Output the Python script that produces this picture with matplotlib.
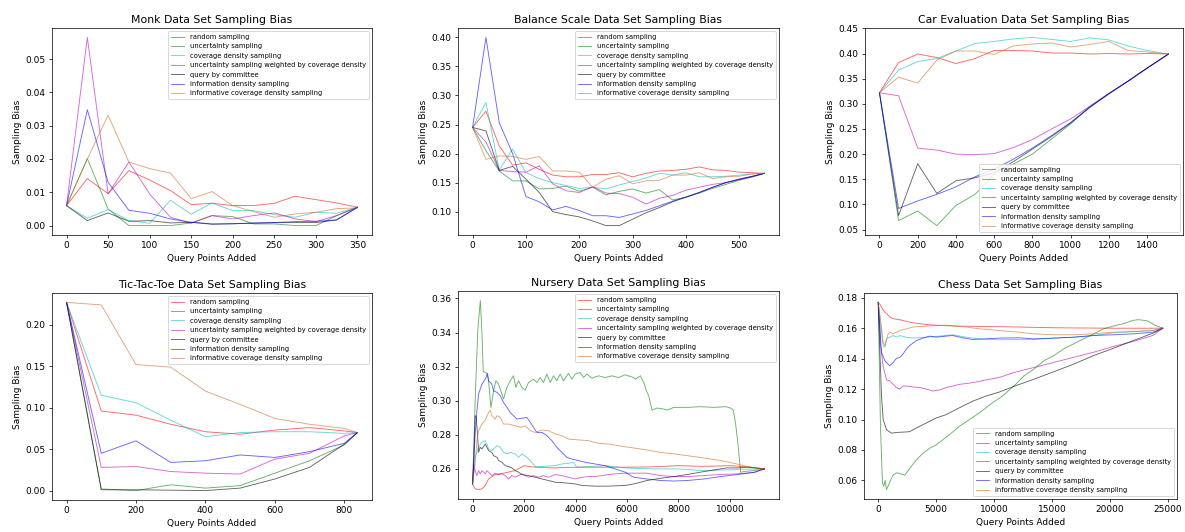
import matplotlib

matplotlib.use("Agg")
import matplotlib.pyplot as plt


STRATEGIES = [
    "random sampling",
    "uncertainty sampling",
    "coverage density sampling",
    "uncertainty sampling weighted by coverage density",
    "query by committee",
    "information density sampling",
    "informative coverage density sampling",
]
COLORS = ["r", "g", "c", "m", "k", "b", "chocolate"]

# Monk
monk_x = [0, 25, 50, 75, 100, 125, 150, 175, 200, 225, 250, 275, 300, 325, 350]
monk_random = [0.006, 0.0141, 0.0096, 0.0165, 0.0137, 0.0105, 0.0063, 0.0067, 0.006, 0.006, 0.0067, 0.0088, 0.0078, 0.0068, 0.0055]
monk_uncertainty = [0.006, 0.0201, 0.005, 0.0, 0.0, 0.0, 0.0008, 0.003, 0.0027, 0.0005, 0.0005, 0.0, 0.0, 0.003, 0.0055]
monk_coverage = [0.006, 0.0022, 0.0048, 0.0015, 0.0007, 0.0076, 0.0034, 0.0068, 0.0045, 0.0045, 0.0033, 0.0025, 0.004, 0.0037, 0.0055]
monk_weighted = [0.006, 0.0565, 0.0095, 0.0191, 0.0095, 0.0025, 0.0007, 0.003, 0.002, 0.003, 0.0038, 0.002, 0.0012, 0.003, 0.0055]
monk_committee = [0.006, 0.0015, 0.0038, 0.0013, 0.0015, 0.0008, 0.001, 0.0004, 0.0006, 0.0007, 0.0009, 0.0009, 0.0009, 0.0017, 0.0055]
monk_density = [0.006, 0.0348, 0.013, 0.0046, 0.0037, 0.002, 0.001, 0.0005, 0.0005, 0.0008, 0.0009, 0.0012, 0.0013, 0.0017, 0.0055]
monk_informative = [0.006, 0.02, 0.0331, 0.0191, 0.0171, 0.0158, 0.0081, 0.0102, 0.006, 0.0042, 0.0025, 0.0035, 0.004, 0.0051, 0.0053]

# Balance Scale
balance_x = [0, 25, 50, 75, 100, 125, 150, 175, 200, 225, 250, 275, 300, 325, 350, 375, 400, 425, 450, 475, 500, 525, 547]
balance_random = [0.245, 0.273, 0.213, 0.18, 0.184, 0.173, 0.163, 0.16, 0.16, 0.164, 0.164, 0.167, 0.16, 0.166, 0.17, 0.171, 0.173, 0.177, 0.172, 0.171, 0.168, 0.167, 0.166]
balance_uncertainty = [0.245, 0.205, 0.17, 0.153, 0.153, 0.139, 0.14, 0.144, 0.135, 0.142, 0.129, 0.135, 0.139, 0.132, 0.138, 0.12, 0.125, 0.132, 0.14, 0.147, 0.154, 0.16, 0.166]
balance_coverage = [0.245, 0.288, 0.172, 0.208, 0.167, 0.157, 0.15, 0.145, 0.14, 0.142, 0.139, 0.146, 0.152, 0.158, 0.166, 0.163, 0.167, 0.16, 0.16, 0.161, 0.163, 0.165, 0.166]
balance_weighted = [0.245, 0.22, 0.171, 0.169, 0.168, 0.179, 0.148, 0.136, 0.133, 0.143, 0.132, 0.131, 0.125, 0.113, 0.123, 0.128, 0.137, 0.142, 0.147, 0.15, 0.155, 0.16, 0.166]
balance_committee = [0.245, 0.239, 0.171, 0.178, 0.156, 0.133, 0.1, 0.095, 0.091, 0.084, 0.076, 0.076, 0.087, 0.098, 0.107, 0.117, 0.125, 0.133, 0.142, 0.15, 0.156, 0.161, 0.166]
balance_density = [0.245, 0.4, 0.253, 0.2, 0.126, 0.117, 0.103, 0.109, 0.102, 0.093, 0.093, 0.09, 0.096, 0.102, 0.11, 0.118, 0.125, 0.133, 0.142, 0.15, 0.156, 0.161, 0.166]
balance_informative = [0.245, 0.19, 0.196, 0.195, 0.19, 0.195, 0.17, 0.17, 0.168, 0.142, 0.156, 0.162, 0.148, 0.153, 0.154, 0.163, 0.163, 0.167, 0.157, 0.16, 0.161, 0.165, 0.166]

# Car Evaluation
car_x = [0, 100, 200, 300, 400, 500, 600, 700, 800, 900, 1000, 1100, 1200, 1300, 1400, 1512]
car_random = [0.322, 0.382, 0.399, 0.392, 0.38, 0.39, 0.406, 0.406, 0.405, 0.401, 0.401, 0.399, 0.4, 0.399, 0.4, 0.399]
car_uncertainty = [0.322, 0.068, 0.087, 0.058, 0.098, 0.12, 0.16, 0.18, 0.2, 0.23, 0.26, 0.295, 0.32, 0.345, 0.371, 0.399]
car_coverage = [0.322, 0.367, 0.384, 0.39, 0.405, 0.42, 0.424, 0.429, 0.432, 0.428, 0.424, 0.431, 0.427, 0.415, 0.406, 0.399]
car_weighted = [0.322, 0.316, 0.212, 0.208, 0.2, 0.199, 0.201, 0.213, 0.229, 0.25, 0.27, 0.295, 0.321, 0.345, 0.371, 0.399]
car_committee = [0.322, 0.078, 0.181, 0.122, 0.147, 0.153, 0.163, 0.185, 0.21, 0.235, 0.262, 0.293, 0.32, 0.345, 0.371, 0.399]
car_density = [0.322, 0.092, 0.107, 0.12, 0.135, 0.155, 0.17, 0.19, 0.212, 0.237, 0.263, 0.293, 0.32, 0.345, 0.371, 0.399]
car_informative = [0.322, 0.353, 0.341, 0.387, 0.405, 0.405, 0.398, 0.415, 0.419, 0.421, 0.413, 0.418, 0.424, 0.406, 0.403, 0.399]

# Tic-Tac-Toe
tic_x = [0, 100, 200, 300, 400, 500, 600, 700, 800, 838]
tic_random = [0.227, 0.096, 0.091, 0.08, 0.071, 0.068, 0.073, 0.076, 0.072, 0.07]
tic_uncertainty = [0.227, 0.002, 0.0, 0.007, 0.003, 0.006, 0.021, 0.036, 0.055, 0.07]
tic_coverage = [0.227, 0.115, 0.106, 0.085, 0.065, 0.07, 0.071, 0.071, 0.069, 0.07]
tic_weighted = [0.227, 0.028, 0.029, 0.023, 0.021, 0.02, 0.038, 0.045, 0.066, 0.07]
tic_committee = [0.227, 0.001, 0.001, 0.0005, 0.0, 0.003, 0.014, 0.028, 0.056, 0.07]
tic_density = [0.227, 0.045, 0.06, 0.034, 0.036, 0.043, 0.04, 0.047, 0.057, 0.07]
tic_informative = [0.227, 0.224, 0.152, 0.149, 0.12, 0.104, 0.087, 0.08, 0.075, 0.07]

# Nursery (each curve read at its own query counts)
nursery_random_x = [0, 50, 100, 233, 362, 492, 621, 880, 1200, 1650, 2006, 2300, 2700, 3200, 4000, 5000, 6000, 7000, 8000, 9000, 10000, 10700, 11340]
nursery_random = [0.2512, 0.2497, 0.2483, 0.2479, 0.2483, 0.2503, 0.2541, 0.2567, 0.2575, 0.259, 0.2619, 0.2612, 0.2608, 0.2606, 0.261, 0.261, 0.261, 0.2612, 0.2619, 0.2615, 0.2619, 0.2612, 0.26]
nursery_uncertainty_x = [0, 100, 200, 300, 360, 414, 556, 621, 712, 815, 906, 1010, 1139, 1203, 1332, 1462, 1592, 1683, 1785, 1915,
                         2045, 2174, 2368, 2497, 2627, 2756, 2885, 3015, 3144, 3274, 3403, 3533, 3727, 3856, 3986, 4180, 4309, 4439, 4633, 4892,
                         5150, 5410, 5670, 5926, 6260, 6325, 6520, 6650, 6753, 6844, 6974, 7170, 7430, 7560, 7818, 8338, 8858, 9377, 9832, 10027,
                         10131, 10222, 10313, 10417, 10546, 10936, 11340]
nursery_uncertainty = [0.2512, 0.3, 0.3409, 0.3588, 0.3409, 0.3171, 0.316, 0.3117, 0.296, 0.3058, 0.3117, 0.3097, 0.3039, 0.301, 0.3078, 0.3117, 0.3146, 0.3078, 0.3117, 0.3078,
                       0.3062, 0.3107, 0.3126, 0.3107, 0.3136, 0.3107, 0.3156, 0.3107, 0.3146, 0.3117, 0.3156, 0.3117, 0.316, 0.3126, 0.3156, 0.3165, 0.3136, 0.3156, 0.3132, 0.3146,
                       0.3136, 0.3146, 0.3136, 0.3152, 0.3136, 0.3126, 0.3146, 0.3107, 0.3058, 0.3029, 0.2945, 0.2957, 0.2951, 0.2945, 0.2961, 0.2961, 0.2965, 0.2961, 0.2965, 0.2957,
                       0.2945, 0.2863, 0.2746, 0.258, 0.2585, 0.259, 0.26]
nursery_coverage_x = [0, 100, 233, 362, 492, 556, 621, 750, 815, 945, 1074, 1203, 1332, 1462, 1656, 1786, 1915, 2109, 2239, 2433,
                      2692, 3209, 3468, 3727, 3921, 4050, 4500, 5150, 5926, 7000, 8000, 9000, 10000, 10500, 11340]
nursery_coverage = [0.2512, 0.2668, 0.2727, 0.2756, 0.2766, 0.2746, 0.2717, 0.2707, 0.2717, 0.2736, 0.2727, 0.2697, 0.2688, 0.2697, 0.2688, 0.2668, 0.2688, 0.2668, 0.2649, 0.2614,
                    0.2614, 0.262, 0.2629, 0.2633, 0.2639, 0.261, 0.2614, 0.2619, 0.2606, 0.26, 0.26, 0.259, 0.2595, 0.2598, 0.26]
nursery_weighted_x = [0, 50, 100, 169, 233, 298, 362, 492, 556, 621, 750, 880, 1010, 1139, 1268, 1397, 1527, 1656, 1786, 1915,
                      2045, 2174, 2368, 2562, 2756, 2950, 3209, 3468, 3727, 3986, 4244, 4503, 4762, 5021, 5280, 5538, 5926, 6260, 6780, 7300,
                      7818, 8338, 8988, 9637, 10287, 10936, 11340]
nursery_weighted = [0.2512, 0.2629, 0.259, 0.2561, 0.259, 0.2571, 0.259, 0.2571, 0.259, 0.2581, 0.2561, 0.2575, 0.2567, 0.2571, 0.2561, 0.2541, 0.2561, 0.2551, 0.2561, 0.2571,
                    0.2561, 0.2551, 0.2561, 0.2551, 0.2561, 0.2551, 0.2567, 0.2561, 0.2551, 0.2541, 0.2551, 0.2555, 0.2555, 0.2561, 0.2567, 0.2571, 0.2575, 0.2575, 0.2575, 0.2561,
                    0.2555, 0.2555, 0.2561, 0.2567, 0.2571, 0.2579, 0.26]
nursery_committee_x = [0, 50, 100, 140, 190, 233, 298, 362, 492, 556, 621, 750, 815, 945, 1010, 1139, 1268, 1397, 1527, 1656,
                       1786, 1915, 2174, 2433, 2692, 2950, 3209, 3598, 3986, 4244, 4762, 5280, 5926, 6260, 6780, 7300, 7818, 8338, 8858, 9377,
                       9897, 10287, 10676, 11340]
nursery_committee = [0.2512, 0.2668, 0.2912, 0.2906, 0.2805, 0.2697, 0.2727, 0.2717, 0.2746, 0.2727, 0.2707, 0.2697, 0.2678, 0.2668, 0.2649, 0.2639, 0.2619, 0.2614, 0.2606, 0.259,
                     0.2581, 0.2567, 0.2561, 0.2551, 0.2541, 0.2532, 0.2522, 0.2518, 0.2512, 0.2503, 0.2499, 0.2499, 0.2503, 0.2512, 0.2532, 0.2545, 0.2555, 0.2567, 0.2581, 0.2594,
                     0.2606, 0.2606, 0.261, 0.26]
nursery_density_x = [0, 100, 168, 233, 362, 492, 582, 621, 750, 815, 945, 1074, 1203, 1332, 1462, 1592, 1721, 1915, 2109, 2239,
                     2368, 2497, 2692, 2885, 3080, 3274, 3468, 3662, 3856, 4115, 4374, 4762, 5150, 5538, 5926, 6260, 6780, 7300, 7818, 8338,
                     8988, 9637, 10287, 10936, 11340]
nursery_density = [0.2512, 0.2805, 0.2941, 0.3039, 0.3097, 0.3126, 0.316, 0.3117, 0.3097, 0.3058, 0.3049, 0.3029, 0.299, 0.2961, 0.2931, 0.2912, 0.2892, 0.2897, 0.2902, 0.2873,
                   0.2844, 0.2814, 0.2814, 0.2795, 0.2766, 0.2727, 0.2697, 0.2668, 0.2658, 0.2649, 0.2639, 0.2629, 0.2619, 0.26, 0.2581, 0.2551, 0.2541, 0.2532, 0.2529, 0.2532,
                   0.2541, 0.2555, 0.2567, 0.258, 0.26]
nursery_informative_x = [0, 100, 168, 233, 362, 492, 621, 686, 750, 880, 945, 1074, 1203, 1397, 1656, 1850, 2045, 2239, 2433, 2692,
                         2950, 3209, 3468, 3727, 4115, 4503, 4892, 5280, 5926, 6260, 6780, 7300, 7818, 8338, 8988, 9637, 10157, 10676, 11340]
nursery_informative = [0.2512, 0.2629, 0.2766, 0.2824, 0.2863, 0.2887, 0.2931, 0.2945, 0.2912, 0.2892, 0.2912, 0.2902, 0.2863, 0.2863, 0.2853, 0.2844, 0.2853, 0.2824, 0.2814, 0.2828,
                       0.2824, 0.2805, 0.2795, 0.2775, 0.277, 0.2766, 0.275, 0.2746, 0.273, 0.2723, 0.2711, 0.2697, 0.2688, 0.2678, 0.2664, 0.2649, 0.2633, 0.2614, 0.26]

# Chess (each curve read at its own query counts)
chess_random_x = [0, 200, 428, 714, 1000, 1286, 1857, 2428, 3000, 3571, 4143, 5000, 5857, 7000, 8714, 10428, 12143, 15147, 20290, 24549]
chess_random = [0.177, 0.1751, 0.1718, 0.1696, 0.1674, 0.1663, 0.1656, 0.1645, 0.1636, 0.163, 0.1625, 0.1619, 0.1619, 0.1614, 0.1612, 0.161, 0.1608, 0.1603, 0.16, 0.16]
chess_uncertainty_x = [0, 200, 371, 486, 600, 714, 886, 1057, 1286, 1571, 1857, 2286, 2714, 3286, 3857, 4429, 5000, 5571, 6143, 7000,
                       7857, 8714, 9857, 10714, 11857, 12575, 13432, 14290, 15147, 16004, 16861, 17718, 18575, 19432, 20290, 21147, 22004, 22432, 23147, 23432,
                       23860, 24549]
chess_uncertainty = [0.177, 0.0933, 0.0579, 0.0561, 0.06, 0.0539, 0.0568, 0.06, 0.0634, 0.065, 0.0645, 0.0634, 0.0678, 0.0734, 0.0778, 0.0811, 0.0833, 0.0867, 0.09, 0.0955,
                     0.0999, 0.1043, 0.111, 0.1154, 0.1231, 0.1287, 0.1331, 0.1386, 0.142, 0.1464, 0.1497, 0.153, 0.1563, 0.1596, 0.1614, 0.163, 0.1652, 0.1656, 0.165, 0.1641,
                     0.162, 0.16]
chess_coverage_x = [0, 200, 428, 571, 714, 1000, 1286, 1571, 1857, 2428, 3000, 4143, 5286, 6428, 7571, 8714, 10428, 12143, 13432, 15147,
                    16861, 18575, 20290, 22004, 23718, 24549]
chess_coverage = [0.177, 0.1619, 0.1486, 0.1475, 0.153, 0.1541, 0.1552, 0.1541, 0.1552, 0.1541, 0.1535, 0.1541, 0.1548, 0.1557, 0.1541, 0.153, 0.1524, 0.1526, 0.1526, 0.1535,
                  0.1541, 0.1552, 0.157, 0.1578, 0.1585, 0.16]
chess_weighted_x = [0, 86, 200, 428, 714, 1000, 1286, 1571, 1857, 2143, 2428, 3000, 3571, 4143, 4714, 5286, 5857, 7000, 8143, 9286,
                    10428, 11718, 13432, 15147, 16861, 18575, 20290, 22004, 23718, 24549]
chess_weighted = [0.177, 0.166, 0.1486, 0.135, 0.126, 0.1254, 0.1231, 0.121, 0.12, 0.122, 0.122, 0.1214, 0.121, 0.12, 0.1187, 0.1194, 0.121, 0.1231, 0.1242, 0.126,
                  0.1276, 0.1309, 0.1342, 0.1375, 0.1409, 0.1442, 0.148, 0.1513, 0.1553, 0.16]
chess_committee_x = [0, 143, 286, 428, 714, 1143, 1571, 2143, 2714, 3286, 4143, 5000, 5857, 7000, 8143, 9286, 10429, 11857, 13432, 15147,
                     16861, 18575, 20290, 22004, 23718, 24549]
chess_committee = [0.177, 0.1444, 0.115, 0.1, 0.0933, 0.091, 0.0915, 0.0917, 0.092, 0.0944, 0.0977, 0.101, 0.1032, 0.1077, 0.112, 0.1154, 0.118, 0.1222, 0.1265, 0.1314,
                   0.1364, 0.142, 0.1468, 0.1519, 0.1568, 0.16]
chess_density_x = [0, 143, 286, 571, 1000, 1286, 1571, 1857, 2143, 2428, 2714, 3286, 3857, 4429, 5000, 5857, 6428, 7286, 8143, 9286,
                   10428, 12143, 13432, 15147, 16861, 18575, 20290, 22004, 23718, 24549]
chess_density = [0.177, 0.1596, 0.1442, 0.1386, 0.1353, 0.1375, 0.1402, 0.1408, 0.143, 0.1464, 0.1486, 0.1519, 0.1535, 0.1548, 0.1541, 0.1548, 0.1552, 0.1537, 0.1526, 0.153,
                 0.1535, 0.1537, 0.153, 0.1535, 0.1541, 0.1552, 0.1557, 0.1563, 0.1574, 0.16]
chess_informative_x = [0, 200, 428, 571, 857, 1000, 1286, 1571, 1857, 2428, 3000, 4143, 5286, 6428, 7571, 8714, 10428, 12143, 13432, 15147,
                       16861, 18575, 20290, 22004, 23718, 24549]
chess_informative = [0.177, 0.166, 0.1508, 0.1486, 0.1563, 0.1574, 0.1563, 0.1574, 0.1585, 0.1596, 0.1608, 0.1614, 0.1619, 0.1614, 0.1608, 0.1596, 0.1585, 0.1574, 0.1563, 0.1557,
                     0.1557, 0.1563, 0.1574, 0.1578, 0.1585, 0.16]


W, H, DPI = 1185, 532, 65


def _add_panel(fig, box, title, curves, legend_loc):
    left, top, right, bottom = box
    axis = fig.add_axes([left / W, 1 - bottom / H, (right - left) / W, (bottom - top) / H])
    for (xs, ys), label, color in zip(curves, STRATEGIES, COLORS):
        axis.plot(xs, ys, color=color, alpha=0.6, linewidth=1.0, label=label)
    axis.set_title(title)
    axis.set_xlabel("Query Points Added")
    axis.set_ylabel("Sampling Bias")
    axis.legend(loc=legend_loc, fontsize=7.5)
    return axis


fig = plt.figure(figsize=(W / DPI, H / DPI), dpi=DPI)

_add_panel(
    fig, (52, 28, 372, 235), "Monk Data Set Sampling Bias",
    [(monk_x, monk_random), (monk_x, monk_uncertainty), (monk_x, monk_coverage),
     (monk_x, monk_weighted), (monk_x, monk_committee), (monk_x, monk_density),
     (monk_x, monk_informative)],
    "upper right",
)
_add_panel(
    fig, (458, 28, 779, 235), "Balance Scale Data Set Sampling Bias",
    [(balance_x, balance_random), (balance_x, balance_uncertainty), (balance_x, balance_coverage),
     (balance_x, balance_weighted), (balance_x, balance_committee), (balance_x, balance_density),
     (balance_x, balance_informative)],
    "upper right",
)
_add_panel(
    fig, (865, 28, 1183, 235), "Car Evaluation Data Set Sampling Bias",
    [(car_x, car_random), (car_x, car_uncertainty), (car_x, car_coverage),
     (car_x, car_weighted), (car_x, car_committee), (car_x, car_density),
     (car_x, car_informative)],
    "lower right",
)
_add_panel(
    fig, (52, 293, 372, 500), "Tic-Tac-Toe Data Set Sampling Bias",
    [(tic_x, tic_random), (tic_x, tic_uncertainty), (tic_x, tic_coverage),
     (tic_x, tic_weighted), (tic_x, tic_committee), (tic_x, tic_density),
     (tic_x, tic_informative)],
    "upper right",
)
_add_panel(
    fig, (458, 291, 779, 499), "Nursery Data Set Sampling Bias",
    [(nursery_random_x, nursery_random), (nursery_uncertainty_x, nursery_uncertainty),
     (nursery_coverage_x, nursery_coverage), (nursery_weighted_x, nursery_weighted),
     (nursery_committee_x, nursery_committee), (nursery_density_x, nursery_density),
     (nursery_informative_x, nursery_informative)],
    "upper right",
)
_add_panel(
    fig, (864, 293, 1177, 499), "Chess Data Set Sampling Bias",
    [(chess_random_x, chess_random), (chess_uncertainty_x, chess_uncertainty),
     (chess_coverage_x, chess_coverage), (chess_weighted_x, chess_weighted),
     (chess_committee_x, chess_committee), (chess_density_x, chess_density),
     (chess_informative_x, chess_informative)],
    "lower right",
)

fig.savefig("out.png", dpi=DPI)
